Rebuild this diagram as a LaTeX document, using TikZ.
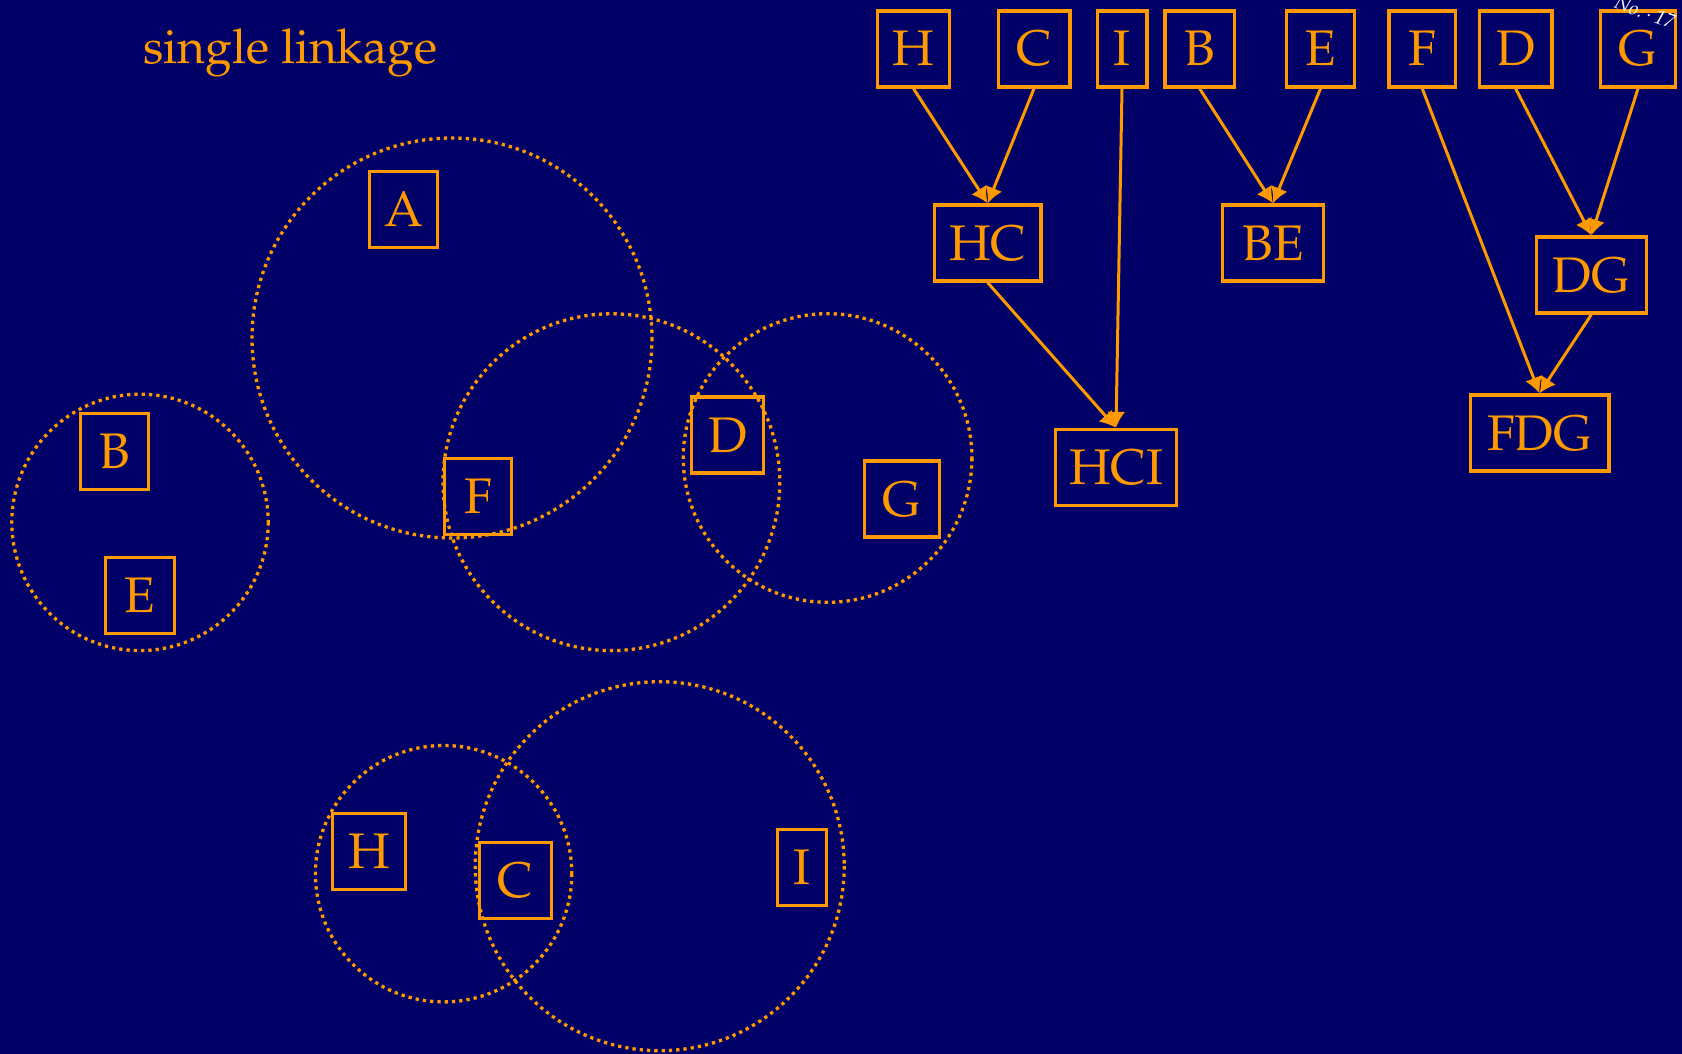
\documentclass[tikz,border=0pt]{standalone}
\usepackage[T1]{fontenc}
\usepackage{mathpazo}
\usetikzlibrary{arrows.meta}

\definecolor{navy}{RGB}{0,0,102}
\definecolor{orng}{RGB}{255,153,0}

\tikzset{
  box/.style={draw=orng, line width=3.3pt, text=orng, minimum height=76pt,
    inner xsep=8pt, inner ysep=0pt, text height=34pt, text depth=0pt,
    font=\fontsize{50}{60}\selectfont},
  bw/.style={minimum width=#1-3.3pt},
  cluster/.style={draw=orng, line width=3.3pt, dash pattern=on 3.3pt off 4pt},
  merge/.style={draw=orng, line width=3pt, -{Latex[length=16pt,width=18pt]}},
}

\begin{document}
\begin{tikzpicture}[x=1pt, y=-1pt]
  % canvas
  \fill[navy] (0,0) rectangle (1682,1054);
  \useasboundingbox (0,0) rectangle (1682,1054);

  % title
  \node[anchor=base west, inner sep=0pt, text=orng, font=\fontsize{48}{58}\selectfont]
    (title) at (143,63.3) {single linkage};

  % clusters in the plane
  \draw[cluster] (452,338) circle (200);
  \draw[cluster] (611.4,482.2) circle (168.4);
  \draw[cluster] (827.6,458) circle (144.3);
  \draw[cluster] (140,522.4) circle (128.2);
  \draw[cluster] (443.6,873.7) circle (128.2);
  \draw[cluster] (659.7,866.2) circle (184.5);

  % points
  \node[box, bw=71pt] (pA) at (403.5,209.5) {A};
  \node[box, bw=71pt] (pB) at (114.5,451.5) {B};
  \node[box, bw=72pt] (pE) at (140,595.5) {E};
  \node[box, bw=70pt] (pF) at (478,496.5) {F};
  \node[box, bw=75pt] (pD) at (727.5,435) {D};
  \node[box, bw=78pt] (pG) at (902,499) {G};
  \node[box, bw=76pt] (pH) at (369,851.5) {H};
  \node[box, bw=75pt] (pC) at (515.5,880.5) {C};
  \node[box, bw=52pt] (pI) at (802,867.5) {I};

  % dendrogram leaves
  \node[box, bw=75pt] (lH) at (913.5,49) {H};
  \node[box, bw=75pt] (lC) at (1034,49) {C};
  \node[box, bw=53pt] (lI) at (1122,49) {I};
  \node[box, bw=73pt] (lB) at (1199.7,49) {B};
  \node[box, bw=71pt] (lE) at (1320.5,49) {E};
  \node[box, bw=70pt] (lF) at (1422.3,49) {F};
  \node[box, bw=76pt] (lD) at (1515.7,49) {D};
  \node[box, bw=78pt] (lG) at (1638,49) {G};

  % merged clusters
  \node[box, bw=110pt] (HC) at (987.7,243) {HC};
  \node[box, bw=104pt] (BE) at (1273,243) {BE};
  \node[box, bw=113pt] (DG) at (1591.3,275) {DG};
  \node[box, bw=124pt] (HCI) at (1116,467.5) {HCI};
  \node[box, bw=142pt] (FDG) at (1539.5,433) {FDG};

  % merges
  \draw[merge] (lH.south) -- (HC.north);
  \draw[merge] (lC.south) -- (HC.north);
  \draw[merge] (lB.south) -- (BE.north);
  \draw[merge] (lE.south) -- (BE.north);
  \draw[merge] (lD.south) -- (DG.north);
  \draw[merge] (lG.south) -- (DG.north);
  \draw[merge] (HC.south) -- (HCI.north);
  \draw[merge] (lI.south) -- (HCI.north);
  \draw[merge] (DG.south) -- (FDG.north);
  \draw[merge] (lF.south) -- (FDG.north);

  % page stamp in the corner
  \node[text=white, font=\fontsize{20}{24}\selectfont\itshape, rotate=-20, inner sep=0pt]
    (stamp) at (1645,12) {No.\,$\cdot$\,17};
\end{tikzpicture}
\end{document}
